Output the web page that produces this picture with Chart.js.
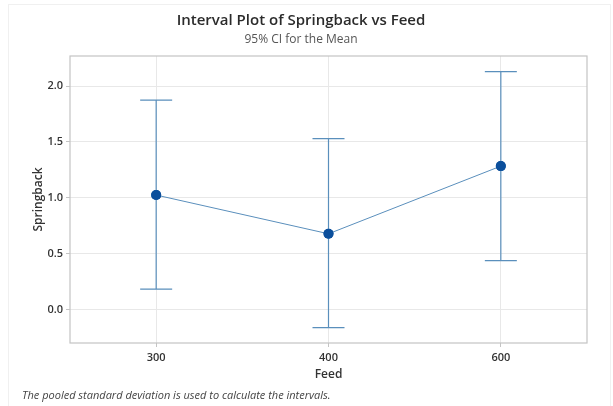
<!DOCTYPE html>
<html>
<head>
<meta charset="utf-8">
<title>Interval Plot of Springback vs Feed</title>
<script src="https://cdn.jsdelivr.net/npm/chart.js@4.4.0/dist/chart.umd.min.js"></script>
<style>
  html, body { margin: 0; padding: 0; background: #fff; }
  #wrap { width: 613px; height: 406px; position: relative; }
</style>
</head>
<body>
<div id="wrap"><canvas id="chart" width="613" height="406"></canvas></div>
<script>
// --- datos ---
const feedLevels = ['300', '400', '600'];
const meanValues = [1.025, 0.678, 1.284];
const ciLower = [0.183, -0.163, 0.437];
const ciUpper = [1.875, 1.530, 2.130];
const yTicks = [0.0, 0.5, 1.0, 1.5, 2.0];

const FONT = "'Open Sans', 'Noto Sans', sans-serif";
const BAR_COLOR = '#5a8fbc';
const MEAN_COLOR = '#0b4f9c';

// Barras de intervalo (con topes) dibujadas sobre las escalas de Chart.js
const intervalBars = {
  id: 'intervalBars',
  afterDatasetsDraw(chart) {
    const { ctx, scales: { x, y } } = chart;
    ctx.save();
    ctx.strokeStyle = BAR_COLOR;
    ctx.lineWidth = 1.2;
    feedLevels.forEach((lab, i) => {
      const px = x.getPixelForValue(i);
      const top = y.getPixelForValue(ciUpper[i]);
      const bot = y.getPixelForValue(ciLower[i]);
      const half = 16;
      ctx.beginPath();
      ctx.moveTo(px, top); ctx.lineTo(px, bot);
      ctx.moveTo(px - half, top); ctx.lineTo(px + half, top);
      ctx.moveTo(px - half, bot); ctx.lineTo(px + half, bot);
      ctx.stroke();
    });
    // volver a pintar los puntos de la media por encima
    const meta = chart.getDatasetMeta(0);
    ctx.fillStyle = MEAN_COLOR;
    meta.data.forEach(pt => {
      ctx.beginPath();
      ctx.arc(pt.x, pt.y, 5, 0, Math.PI * 2);
      ctx.fill();
    });
    ctx.restore();
  }
};

// Marco exterior, borde del area y nota al pie
const frameAndNote = {
  id: 'frameAndNote',
  beforeDraw(chart) {
    const { ctx } = chart;
    ctx.save();
    ctx.strokeStyle = '#f0f0f0';
    ctx.lineWidth = 1;
    ctx.strokeRect(8.5, 4.5, 602, 420);
    ctx.restore();
  },
  afterDraw(chart) {
    const { ctx, chartArea: a } = chart;
    ctx.save();
    ctx.strokeStyle = '#c4c4c4';
    ctx.lineWidth = 1.2;
    ctx.strokeRect(a.left, a.top, a.right - a.left, a.bottom - a.top);
    ctx.fillStyle = '#444';
    ctx.font = `italic 11px ${FONT}`;
    ctx.textBaseline = 'middle';
    ctx.fillText('The pooled standard deviation is used to calculate the intervals.', 22, 396);
    ctx.restore();
  }
};

new Chart(document.getElementById('chart'), {
  type: 'line',
  data: {
    labels: feedLevels,
    datasets: [{
      data: meanValues,
      borderColor: BAR_COLOR,
      borderWidth: 1,
      pointRadius: 5,
      pointBackgroundColor: MEAN_COLOR,
      pointBorderWidth: 0,
      tension: 0
    }]
  },
  options: {
    responsive: false,
    animation: false,
    layout: { padding: { left: 15, right: 26, top: 0, bottom: 20 } },
    plugins: {
      legend: { display: false },
      tooltip: { enabled: false },
      title: {
        display: true,
        text: 'Interval Plot of Springback vs Feed',
        color: '#2b2b2b',
        font: { family: FONT, size: 15, weight: '600' },
        padding: { top: 12, bottom: 0 }
      },
      subtitle: {
        display: true,
        text: '95% CI for the Mean',
        color: '#555',
        font: { family: FONT, size: 12 },
        padding: { top: 2, bottom: 9.6 }
      }
    },
    scales: {
      x: {
        offset: true,
        grid: { color: '#e8e8e8', drawTicks: true, tickLength: 4, tickColor: '#c4c4c4', offset: false },
        border: { display: false },
        ticks: { color: '#333', font: { family: FONT, size: 11, weight: '600' }, padding: 4 },
        title: { display: true, text: 'Feed', color: '#333', font: { family: FONT, size: 12, weight: '600' }, padding: { top: 0, bottom: 4 } },
        afterFit(scale) { scale.height = 43; }
      },
      y: {
        min: -0.3,
        max: 2.27,
        afterBuildTicks(scale) { scale.ticks = yTicks.map(v => ({ value: v })); },
        grid: { color: '#e8e8e8', drawTicks: true, tickLength: 4, tickColor: '#c4c4c4' },
        border: { display: false },
        ticks: {
          color: '#333',
          font: { family: FONT, size: 11, weight: '600' },
          padding: 3,
          callback: v => Number(v).toFixed(1)
        },
        title: { display: true, text: 'Springback', color: '#333', font: { family: FONT, size: 12, weight: '600' }, padding: { top: 16, bottom: 0 } },
        afterFit(scale) { scale.width = 55; }
      }
    }
  },
  plugins: [frameAndNote, intervalBars]
});
</script>
</body>
</html>
